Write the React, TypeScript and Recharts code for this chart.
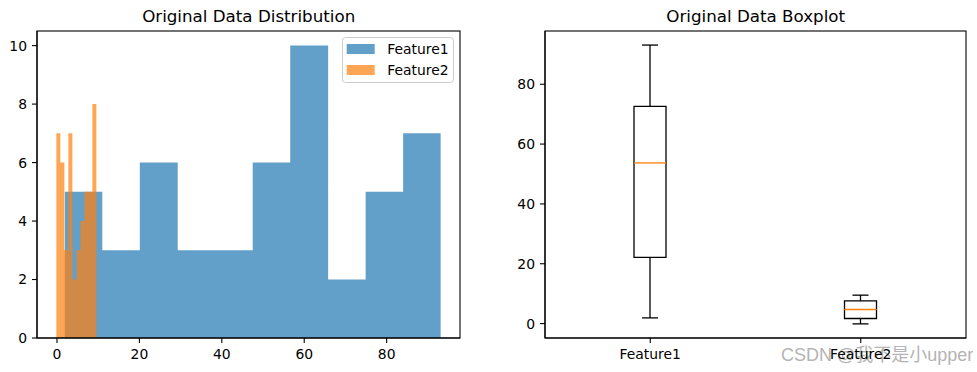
import React from 'react';
import { ComposedChart, Area, Bar, XAxis, YAxis } from 'recharts';

const FONT = '"DejaVu Sans", sans-serif';

const seriesNames = ['Feature1', 'Feature2'];
const seriesColors = ['#1f77b4', '#ff7f0e'];

// histogram bins
const f1Edges = [1.9, 11.0, 20.1, 29.3, 38.4, 47.5, 56.6, 65.8, 74.9, 84.0, 93.1];
const f1Counts = [5, 3, 6, 3, 3, 6, 10, 2, 5, 7];
const f2Edges = [-0.15, 0.82, 1.79, 2.76, 3.73, 4.71, 5.68, 6.65, 7.62, 8.59, 9.56];
const f2Counts = [7, 6, 3, 7, 2, 3, 4, 5, 5, 8];

const histXTicks = [0, 20, 40, 60, 80];
const histYTicks = [0, 2, 4, 6, 8, 10];

// boxplot stats
const boxMin = [1.9, -0.1];
const boxQ1 = [22.1, 1.7];
const boxMedian = [53.7, 4.7];
const boxQ3 = [72.6, 7.6];
const boxMax = [93.1, 9.5];
const boxYTicks = [0, 20, 40, 60, 80];

// one step point per bin edge, last edge repeats the last count
const stepPoints = (edges: number[], counts: number[], key: string) =>
  edges.map((e, i) => ({ x: e, [key]: counts[Math.min(i, counts.length - 1)] }));

const histRows = [...stepPoints(f1Edges, f1Counts, 'f1'), ...stepPoints(f2Edges, f2Counts, 'f2')].sort(
  (a, b) => a.x - b.x
);

const boxRows = seriesNames.map((name, i) => ({
  name,
  base: boxMin[i],
  lowWhisker: boxQ1[i] - boxMin[i],
  lowBox: boxMedian[i] - boxQ1[i],
  highBox: boxQ3[i] - boxMedian[i],
  highWhisker: boxMax[i] - boxQ3[i],
}));

const tickStyle = { fill: '#000', fontSize: 13.9, fontFamily: FONT };
const axisLine = { stroke: '#000', strokeWidth: 1.1 };
const LW = 1.3;

const Hidden = () => <g />;

const LowWhisker = (p: any) => {
  const cx = p.x + p.width / 2;
  const yb = p.y + p.height;
  return (
    <g stroke="#000" strokeWidth={LW}>
      <line x1={cx} x2={cx} y1={p.y} y2={yb} />
      <line x1={cx - p.width / 4} x2={cx + p.width / 4} y1={yb} y2={yb} />
    </g>
  );
};

const HighWhisker = (p: any) => {
  const cx = p.x + p.width / 2;
  return (
    <g stroke="#000" strokeWidth={LW}>
      <line x1={cx} x2={cx} y1={p.y} y2={p.y + p.height} />
      <line x1={cx - p.width / 4} x2={cx + p.width / 4} y1={p.y} y2={p.y} />
    </g>
  );
};

// lower half of the box: sides and bottom (q1) edge
const LowBox = (p: any) => (
  <path
    d={`M${p.x},${p.y} L${p.x},${p.y + p.height} L${p.x + p.width},${p.y + p.height} L${p.x + p.width},${p.y}`}
    fill="none"
    stroke="#000"
    strokeWidth={LW}
  />
);

// upper half: sides and top (q3) edge, median line on its bottom
const HighBox = (p: any) => (
  <g>
    <path
      d={`M${p.x},${p.y + p.height} L${p.x},${p.y} L${p.x + p.width},${p.y} L${p.x + p.width},${p.y + p.height}`}
      fill="none"
      stroke="#000"
      strokeWidth={LW}
    />
    <line x1={p.x} x2={p.x + p.width} y1={p.y + p.height} y2={p.y + p.height} stroke="#ff7f0e" strokeWidth={1.3} />
  </g>
);

export default function App() {
  return (
    <div style={{ position: 'absolute', left: 0, top: 0, width: 977, height: 372, background: '#fff' }}>
      <svg width={977} height={372} style={{ position: 'absolute', left: 0, top: 0 }}>
        <text x={781} y={360.5} fontFamily={'"Liberation Sans", "Noto Sans CJK SC", sans-serif'} fontSize={18} fill="#b4b4b4">
          CSDN @我不是小upper
        </text>
      </svg>

      <div style={{ position: 'absolute', left: 0, top: 0 }}>
        <ComposedChart width={470} height={372} data={histRows} margin={{ top: 31, right: 10, bottom: 4, left: 0 }}>
          <XAxis
            dataKey="x"
            type="number"
            domain={[-4.85, 97.8]}
            ticks={histXTicks}
            interval={0}
            allowDataOverflow
            height={30}
            tickSize={5}
            tickMargin={6}
            tick={tickStyle}
            axisLine={axisLine}
            tickLine={axisLine}
          />
          <YAxis
            type="number"
            domain={[0, 10.5]}
            ticks={histYTicks}
            interval={0}
            allowDataOverflow
            width={37}
            tickSize={5}
            tickMargin={5}
            tick={tickStyle}
            axisLine={axisLine}
            tickLine={axisLine}
          />
          <Area
            dataKey="f1"
            name={seriesNames[0]}
            type="stepAfter"
            fill={seriesColors[0]}
            fillOpacity={0.7}
            stroke="none"
            connectNulls
            baseValue={0}
            dot={false}
            activeDot={false}
            isAnimationActive={false}
          />
          <Area
            dataKey="f2"
            name={seriesNames[1]}
            type="stepAfter"
            fill={seriesColors[1]}
            fillOpacity={0.7}
            stroke="none"
            connectNulls
            baseValue={0}
            dot={false}
            activeDot={false}
            isAnimationActive={false}
          />
        </ComposedChart>
      </div>

      <div style={{ position: 'absolute', left: 470, top: 0 }}>
        <ComposedChart width={507} height={372} data={boxRows} margin={{ top: 31, right: 11, bottom: 4, left: 40 }}>
          <XAxis
            dataKey="name"
            type="category"
            height={30}
            tickSize={5}
            tickMargin={6}
            tick={tickStyle}
            axisLine={axisLine}
            tickLine={axisLine}
          />
          <YAxis
            type="number"
            domain={[-4.82, 97.8]}
            ticks={boxYTicks}
            interval={0}
            allowDataOverflow
            width={35}
            tickSize={5}
            tickMargin={5}
            tick={tickStyle}
            axisLine={axisLine}
            tickLine={axisLine}
          />
          <Bar dataKey="base" stackId="box" barSize={32} shape={Hidden} isAnimationActive={false} />
          <Bar dataKey="lowWhisker" stackId="box" barSize={32} shape={LowWhisker} isAnimationActive={false} />
          <Bar dataKey="lowBox" stackId="box" barSize={32} shape={LowBox} isAnimationActive={false} />
          <Bar dataKey="highBox" stackId="box" barSize={32} shape={HighBox} isAnimationActive={false} />
          <Bar dataKey="highWhisker" stackId="box" barSize={32} shape={HighWhisker} isAnimationActive={false} />
        </ComposedChart>
      </div>

      <svg width={977} height={372} style={{ position: 'absolute', left: 0, top: 0, pointerEvents: 'none' }}>
        {/* axes frames (matplotlib spines) */}
        <rect x={37} y={31} width={423} height={307} fill="none" stroke="#000" strokeWidth={1.1} />
        <rect x={545} y={31} width={421} height={307} fill="none" stroke="#000" strokeWidth={1.1} />

        <text x={248.7} y={22} textAnchor="middle" fontFamily={FONT} fontSize={16.7} fill="#000">
          Original Data Distribution
        </text>
        <text x={755.7} y={22} textAnchor="middle" fontFamily={FONT} fontSize={16.7} fill="#000">
          Original Data Boxplot
        </text>

        <rect x={342.5} y={37.5} width={111} height={45} rx={3} fill="#fff" fillOpacity={0.8} stroke="#cccccc" />
        {seriesNames.map((n, i) => (
          <g key={n}>
            <rect x={346.7} y={44 + i * 21} width={28} height={10} fill={seriesColors[i]} fillOpacity={0.7} />
            <text x={387.3} y={54 + i * 21} fontFamily={FONT} fontSize={13.9} fill="#000">
              {n}
            </text>
          </g>
        ))}
      </svg>
    </div>
  );
}
